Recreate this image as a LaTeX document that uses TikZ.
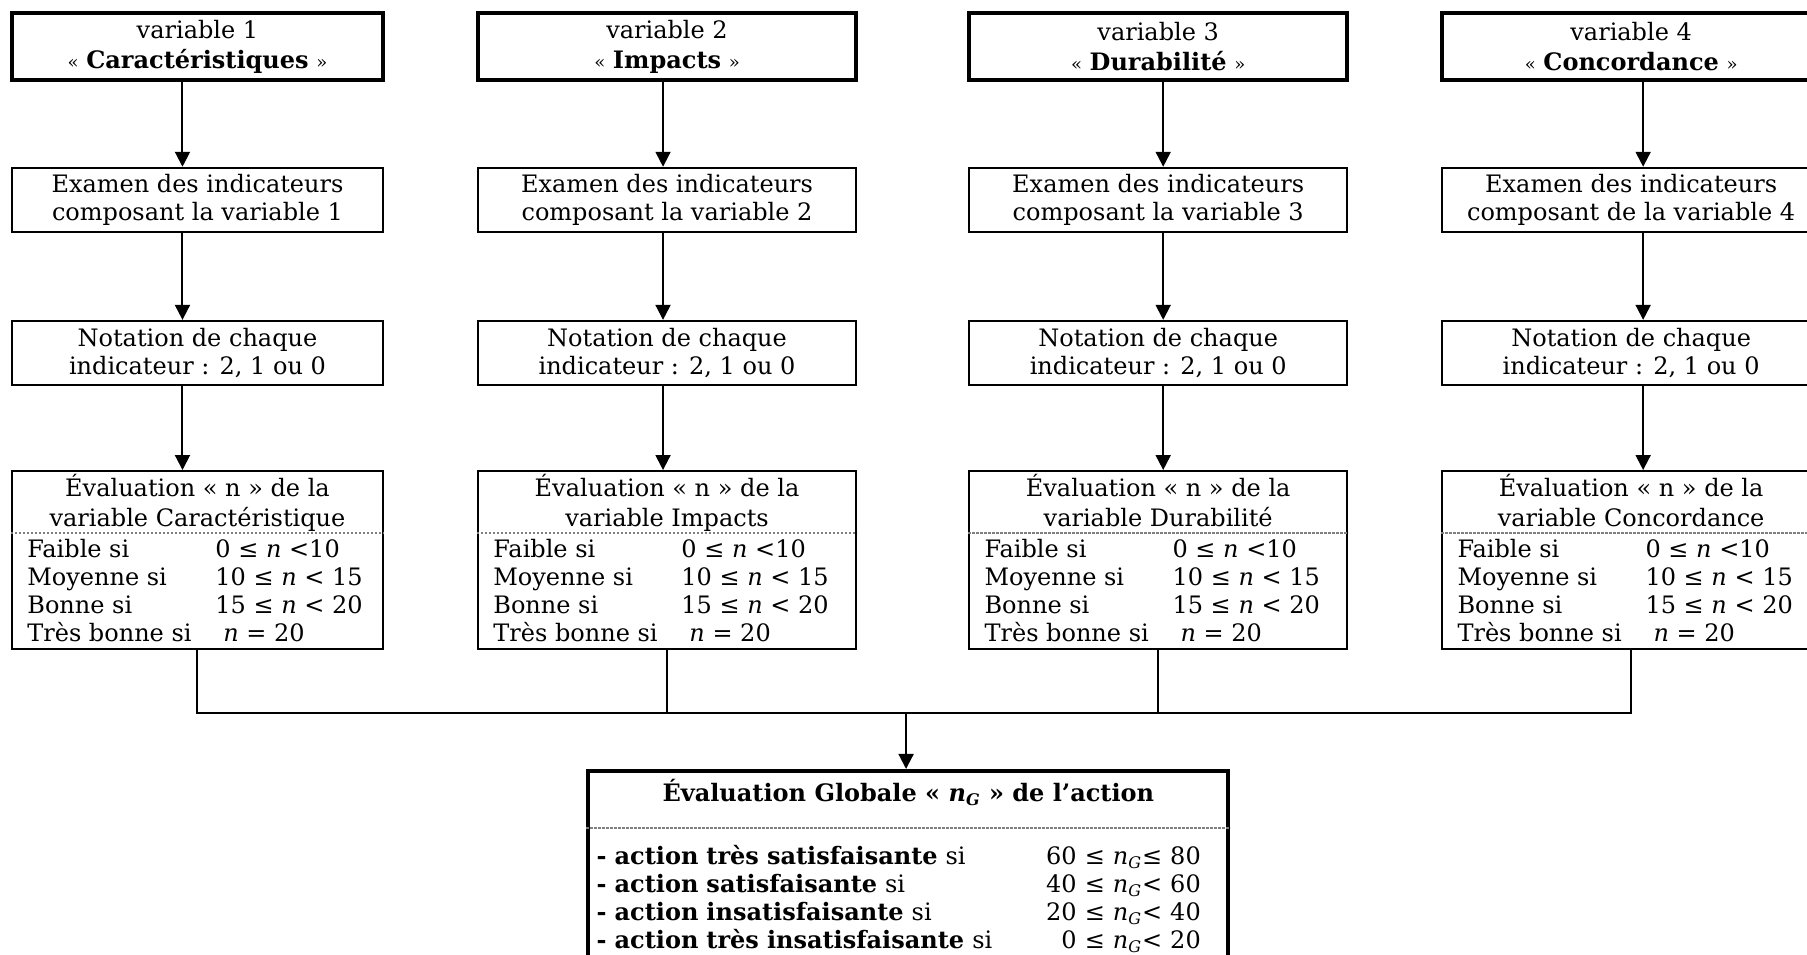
\documentclass[tikz,border=0pt]{standalone}
\usepackage{fontspec}
\setmainfont{DejaVu Serif}
\usepackage{tikz}
\usetikzlibrary{positioning, arrows.meta}

\tikzset{
  varbox/.style={draw, line width=2pt, minimum height=33.5pt, align=center, inner sep=0pt},
  stepbox/.style={draw, line width=1pt, minimum height=32pt, align=center, inner sep=0pt},
  evalbox/.style={draw, line width=1pt, minimum height=89pt, inner sep=0pt},
  globalbox/.style={draw, line width=2pt, minimum width=320pt, minimum height=97pt, inner sep=0pt},
  sep/.style={draw=gray, line width=0.6pt, dash pattern=on 1.2pt off 0.8pt},
  flow/.style={line width=1pt, -{Triangle[length=7.5pt, width=7.5pt]}},
  link/.style={line width=1pt},
}

\begin{document}
\begin{tikzpicture}[font=\fontsize{12pt}{14pt}\selectfont]
    \useasboundingbox (0,0) rectangle (31.75,-16.78);
    \clip (0,0) rectangle (31.75,-16.78);

    % One column for each variable
    \foreach \i/\x/\w/\dx/\var/\ev/\ex in {
        1/3.47/185.5pt/-7.5pt/Caractéristiques/Caractéristique/composant la variable 1,
        2/11.72/189pt/-2pt/Impacts/Impacts/composant la variable 2,
        3/20.35/189pt/2.5pt/Durabilité/Durabilité/composant la variable 3,
        4/28.66/189pt/6pt/Concordance/Concordance/composant de la variable 4} {
      % Boxes of the column
      \node[varbox, minimum width=\w, font=\fontsize{12pt}{15pt}\selectfont] (v\i) at (\x,-0.82) {variable \i\\{\small «} \textbf{\var} {\small »}};
      \node[stepbox, minimum width=\w] (x\i) at (\x,-3.51) {Examen des indicateurs\\\ex};
      \node[stepbox, minimum width=\w] (n\i) at (\x,-6.20) {Notation de chaque\\indicateur : 2, 1 ou 0};
      \node[evalbox, minimum width=\w] (e\i) at (\x,-9.84) {};

      % Content of the evaluation box
      \node[anchor=base, align=center, inner sep=0pt, font=\fontsize{12pt}{15pt}\selectfont] (et\i) at ([yshift=-28pt]e\i.north) {Évaluation « n » de la\\variable \ev};
      \draw[sep] ([yshift=-31.5pt]e\i.north west) -- ([yshift=-31.5pt]e\i.north east);
      \node[anchor=base west, align=left, inner sep=0pt] (es\i) at ([xshift=8pt,yshift=-85.5pt]e\i.north west) {%
        \makebox[94pt][l]{Faible si}0 ≤ \textit{n} <10\\
        \makebox[94pt][l]{Moyenne si}10 ≤ \textit{n} < 15\\
        \makebox[94pt][l]{Bonne si}15 ≤ \textit{n} < 20\\
        \makebox[94pt][l]{Très bonne si}\hspace{4pt}\textit{n} = 20};

      % Arrows down the column
      \draw[flow] ([xshift=\dx]v\i.south) -- ([xshift=\dx]x\i.north);
      \draw[flow] ([xshift=\dx]x\i.south) -- ([xshift=\dx]n\i.north);
      \draw[flow] ([xshift=\dx]n\i.south) -- ([xshift=\dx]e\i.north);
    }

    % Joining the four evaluations
    \coordinate (bus) at (15.92,-12.53);
    \draw[link] (e1.south) -- (e1.south |- bus) -- (e4.south |- bus) -- (e4.south);
    \foreach \i in {2,3}
      \draw[link] (e\i.south) -- (e\i.south |- bus);

    % Global evaluation
    \node[globalbox] (g) at (15.96,-15.25) {};
    \draw[flow] (bus) -- (bus |- g.north);
    \node[anchor=base, inner sep=0pt] (gt) at ([yshift=-16.5pt]g.north) {\textbf{Évaluation Globale « \textit{n}\textsubscript{\textit{G}} » de l’action}};
    \draw[sep] ([yshift=-29.5pt]g.north west) -- ([yshift=-29.5pt]g.north east);
    \node[anchor=base west, text width=302pt, align=left, inner sep=0pt] (gs) at ([xshift=5pt,yshift=-48pt]g.north west) {%
      \textbf{- action très satisfaisante} si\hfill 60 ≤ \textit{n}\textsubscript{\textit{G}}≤ 80\\
      \textbf{- action satisfaisante} si\hfill 40 ≤ \textit{n}\textsubscript{\textit{G}}< 60\\
      \textbf{- action insatisfaisante} si\hfill 20 ≤ \textit{n}\textsubscript{\textit{G}}< 40\\
      \textbf{- action très insatisfaisante} si\hfill 0 ≤ \textit{n}\textsubscript{\textit{G}}< 20};
\end{tikzpicture}
\end{document}
